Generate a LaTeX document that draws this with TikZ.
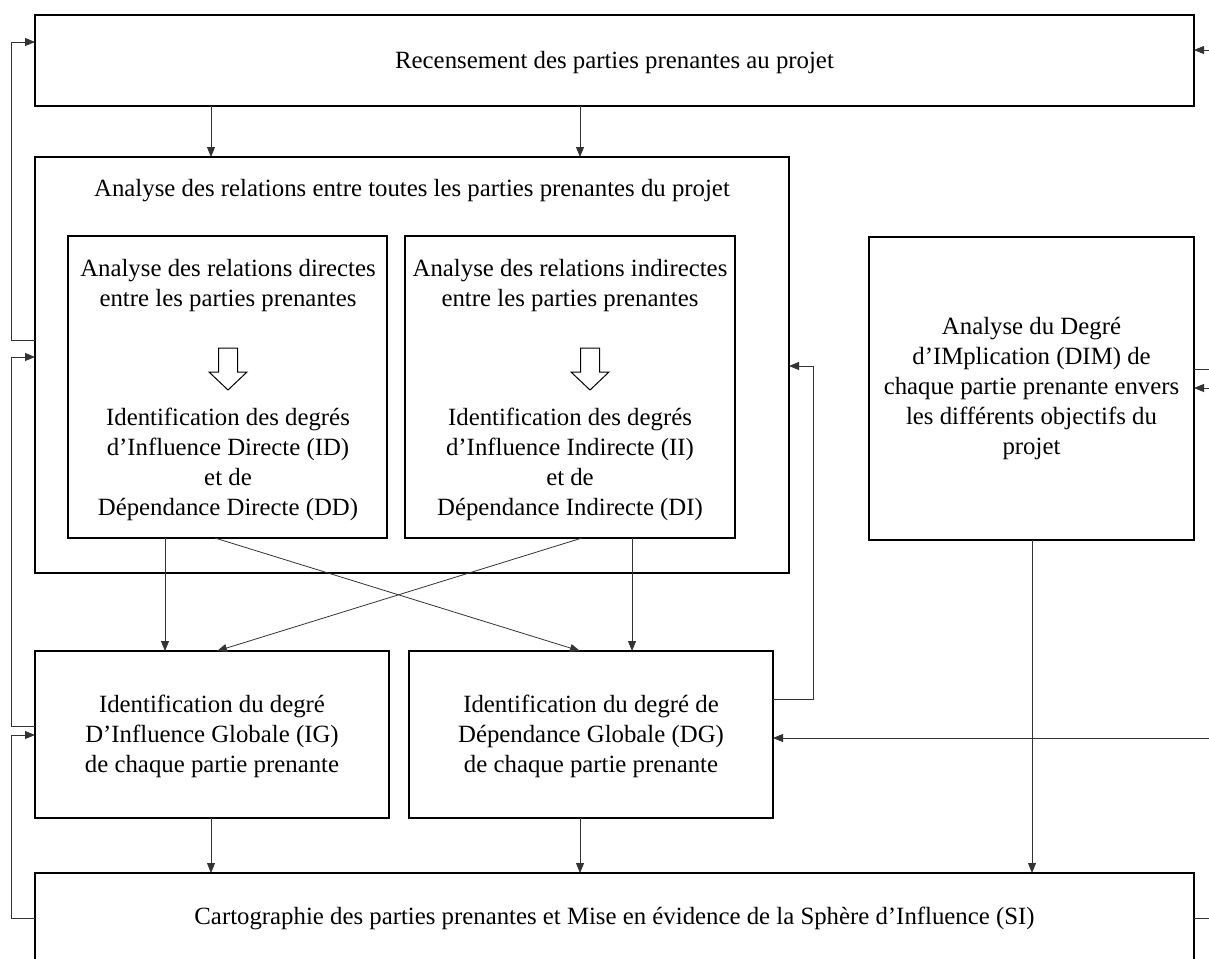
\documentclass[tikz,border=0pt]{standalone}
\usepackage{fontspec}
\setmainfont{Liberation Serif}
\usetikzlibrary{arrows.meta}
\tikzset{
  box/.style={draw=black, line width=1.2pt, inner sep=0pt, outer sep=0pt},
  txt/.style={inner sep=0pt, align=center, font=\fontsize{24.8}{30}\selectfont},
  arr/.style={draw=black!80, line width=0.8pt, -{Triangle[length=10pt,width=8pt]}},
  ln/.style={draw=black!80, line width=0.8pt},
  hollow/.style={draw=black, line width=1pt, fill=white}
}
\newcommand\hollowdown[2]{%
  \draw[hollow] (#1-9.5,#2) -- (#1+9.5,#2) -- (#1+9.5,#2+24) -- (#1+19,#2+24) -- (#1,#2+42) -- (#1-19,#2+24) -- (#1-9.5,#2+24) -- cycle;}
\begin{document}
\begin{tikzpicture}[x=1pt,y=-1pt]
\useasboundingbox (0,0) rectangle (1209,958);
\clip (0,0) rectangle (1209,958);
% boxes
\node[box, minimum width=1159pt, minimum height=91pt] (top) at (614.5,60.5) {};
\node[txt] (toptxt) at (614.5,63) {Recensement des parties prenantes au projet};
\node[box, minimum width=754pt, minimum height=416pt] (ana) at (412,365) {};
\node[txt] (anatxt) at (412,191) {Analyse des relations entre toutes les parties prenantes du projet};
\node[box, minimum width=319pt, minimum height=302pt] (inl) at (227.5,387) {};
\node[txt] (inlA) at (228,286) {Analyse des relations directes\\entre les parties prenantes};
\node[txt] (inlB) at (228,464) {Identification des degrés\\d’Influence Directe (ID)\\et de\\Dépendance Directe (DD)};
\node[box, minimum width=330pt, minimum height=302pt] (inr) at (570,387) {};
\node[txt] (inrA) at (570,286) {Analyse des relations indirectes\\entre les parties prenantes};
\node[txt] (inrB) at (570,464) {Identification des degrés\\d’Influence Indirecte (II)\\et de\\Dépendance Indirecte (DI)};
\node[box, minimum width=325pt, minimum height=303pt] (dim) at (1031.5,388.5) {};
\node[txt] (dimtxt) at (1031.5,389) {Analyse du Degré\\d’IMplication (DIM) de\\chaque partie prenante envers\\les différents objectifs du\\projet};
\node[box, minimum width=354pt, minimum height=167pt] (ig) at (212,734.5) {};
\node[txt] (igtxt) at (212,736) {Identification du degré\\D’Influence Globale (IG)\\de chaque partie prenante};
\node[box, minimum width=364pt, minimum height=167pt] (dg) at (591,734.5) {};
\node[txt] (dgtxt) at (591,736) {Identification du degré de\\Dépendance Globale (DG)\\de chaque partie prenante};
\node[box, minimum width=1159pt, minimum height=88pt] (carto) at (614.5,917) {};
\node[txt] (cartotxt) at (614.5,918) {Cartographie des parties prenantes et Mise en évidence de la Sphère d’Influence (SI)};
% hollow arrows
\hollowdown{228}{348}
\hollowdown{590}{348}
% top to analysis
\draw[arr] (211,0 |- top.south) -- (211,0 |- ana.north);
\draw[arr] (580,0 |- top.south) -- (580,0 |- ana.north);
% inner to IG/DG
\draw[arr] (165,0 |- inl.south) -- (165,0 |- ig.north);
\draw[arr] (215,0 |- inl.south) -- (580,0 |- dg.north);
\draw[arr] (582,0 |- inr.south) -- (217,0 |- ig.north);
\draw[arr] (632,0 |- inr.south) -- (632,0 |- dg.north);
% to carto
\draw[arr] (211,0 |- ig.south) -- (211,0 |- carto.north);
\draw[arr] (580,0 |- dg.south) -- (580,0 |- carto.north);
\draw[arr] (1032,0 |- dim.south) -- (1032,0 |- carto.north);
% left feedback loops
\draw[arr] (ana.west |- 0,340) -- (11,340) -- (11,42) -- (top.west |- 0,42);
\draw[arr] (ig.west |- 0,726) -- (11,726) -- (11,357) -- (ana.west |- 0,357);
\draw[arr] (carto.west |- 0,918) -- (11,918) -- (11,735) -- (ig.west |- 0,735);
% DG feedback to analysis
\draw[arr] (dg.east |- 0,699) -- (813,699) -- (813,366) -- (ana.east |- 0,366);
% right edge lines
\coordinate (r1) at (1209,50);
\coordinate (r2) at (1209,369);
\coordinate (r3) at (1209,388);
\coordinate (r4) at (1209,738);
\coordinate (r5) at (1209,918);
\draw[arr] (r1) -- (top.east |- r1);
\draw[ln] (dim.east |- r2) -- (r2);
\draw[arr] (r3) -- (dim.east |- r3);
\draw[arr] (r4) -- (dg.east |- r4);
\draw[ln] (carto.east |- r5) -- (r5);
\end{tikzpicture}
\end{document}
